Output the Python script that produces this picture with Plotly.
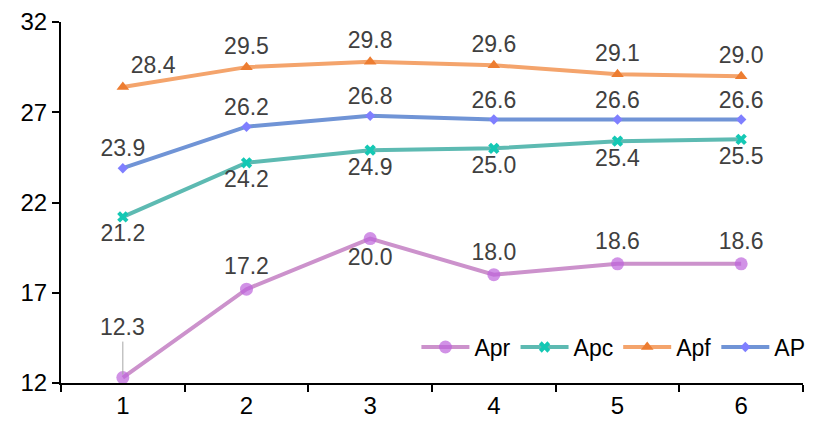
import plotly.graph_objects as go

periods = ["1", "2", "3", "4", "5", "6"]
apr = [12.3, 17.2, 20.0, 18.0, 18.6, 18.6]
apc = [21.2, 24.2, 24.9, 25.0, 25.4, 25.5]
apf = [28.4, 29.5, 29.8, 29.6, 29.1, 29.0]
ap = [23.9, 26.2, 26.8, 26.6, 26.6, 26.6]

label_font = dict(family="Liberation Sans, Arial", size=23, color="#404040")

# where each data label sits relative to its point
apr_pos = ["top center", "top center", "bottom center", "top center", "top center", "top center"]
apf_pos = ["top right", "top center", "top center", "top center", "top center", "top center"]


def labels(vals):
    return ["%.1f" % v for v in vals]


fig = go.Figure()

# the first Apr label goes into an annotation with a leader line
apr_text = labels(apr)
apr_text[0] = ""

fig.add_trace(go.Scatter(
    x=periods, y=apr, name="Apr", mode="lines+markers+text",
    line=dict(color="#CC92CC", width=4),
    marker=dict(symbol="circle", size=13, color="rgba(190,100,220,0.7)"),
    text=apr_text, textposition=apr_pos, textfont=label_font,
))
fig.add_trace(go.Scatter(
    x=periods, y=apc, name="Apc", mode="lines+markers+text",
    line=dict(color="#5DBAB2", width=4),
    marker=dict(symbol="x", size=10, color="#14C8B4"),
    text=labels(apc), textposition="bottom center", textfont=label_font,
))
fig.add_trace(go.Scatter(
    x=periods, y=apf, name="Apf", mode="lines+markers+text",
    line=dict(color="#F4A46C", width=4),
    marker=dict(symbol="triangle-up", size=11, color="#ED7D31"),
    text=labels(apf), textposition=apf_pos, textfont=label_font,
))
fig.add_trace(go.Scatter(
    x=periods, y=ap, name="AP", mode="lines+markers+text",
    line=dict(color="#7094D6", width=4),
    marker=dict(symbol="diamond", size=8, color="#7F7FFF"),
    text=labels(ap), textposition="top center", textfont=label_font,
))

# x=0 is the index of the first category
fig.add_annotation(
    x=0, y=apr[0], text="%.1f" % apr[0], font=label_font,
    showarrow=True, arrowhead=0, arrowwidth=1, arrowcolor="#A6A6A6",
    ax=0, ay=-36, standoff=3, yanchor="bottom",
)

fig.update_layout(
    width=830, height=431,
    margin=dict(l=53, r=35, t=14, b=56, autoexpand=False),
    plot_bgcolor="white", paper_bgcolor="white",
    font=dict(family="Liberation Sans, Arial", size=24, color="black"),
    showlegend=True,
    legend=dict(
        orientation="h", x=1.01, xanchor="right", y=0.04, yanchor="bottom",
        bgcolor="rgba(0,0,0,0)", font=dict(size=23, color="black"),
        itemwidth=48, tracegroupgap=0,
    ),
    xaxis=dict(
        type="category", range=[-0.5, 5.5], showline=True, linecolor="black",
        linewidth=2, ticks="outside", tickson="boundaries", ticklen=7,
        tickwidth=2, tickcolor="black", showgrid=False, zeroline=False,
        automargin=False,
    ),
    yaxis=dict(
        range=[12, 32], dtick=5, tick0=12, showline=True, linecolor="black",
        linewidth=2, ticks="outside", ticklen=7, tickwidth=2, tickcolor="black",
        showgrid=False, zeroline=False, automargin=False,
    ),
)

fig.write_html("out.html")
